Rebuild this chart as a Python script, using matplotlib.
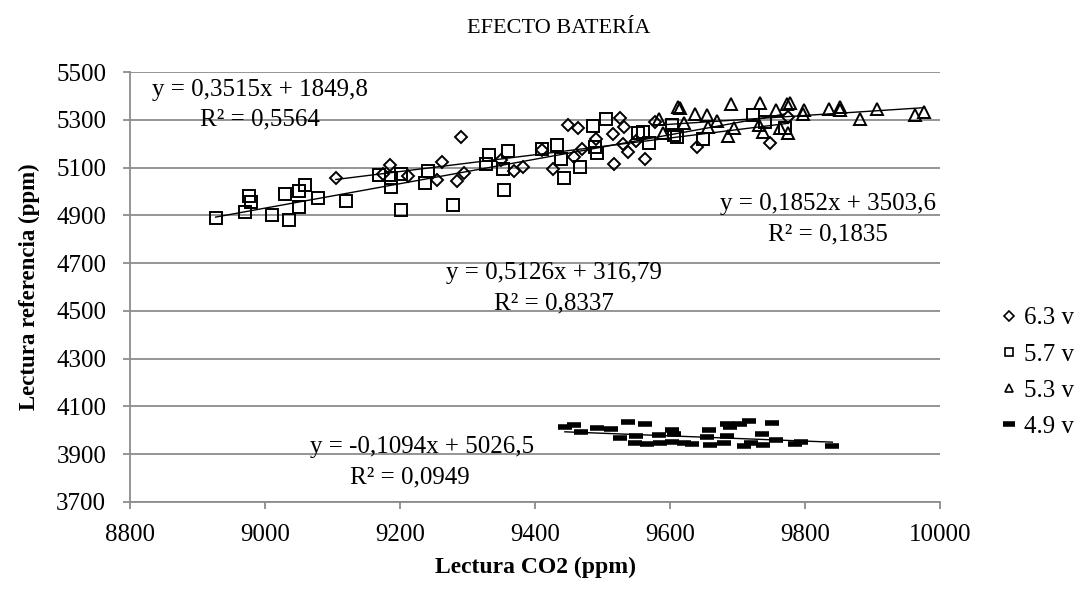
import numpy as np
import matplotlib
matplotlib.use('Agg')
import matplotlib.pyplot as plt

plt.rcParams['font.family'] = ['Liberation Serif', 'DejaVu Serif']

# 6.3 v (diamonds)
x63 = [9105, 9175, 9185, 9212, 9254, 9262, 9290, 9284, 9295, 9349, 9368, 9382,
       9410, 9427, 9448, 9463, 9457, 9469, 9490, 9516, 9517, 9525, 9532, 9530,
       9537, 9562, 9550, 9578, 9640, 9748, 9775]
y63 = [5058, 5072, 5111, 5064, 5049, 5122, 5228, 5042, 5079, 5132, 5086, 5101,
       5174, 5093, 5278, 5264, 5146, 5180, 5219, 5239, 5115, 5309, 5271, 5201,
       5167, 5136, 5211, 5293, 5188, 5204, 5310]

# 5.7 v (squares)
x57 = [8927, 8970, 8977, 8979, 9011, 9030, 9035, 9050, 9050, 9059, 9079, 9120,
       9169, 9187, 9187, 9202, 9201, 9242, 9237, 9278, 9327, 9332, 9353, 9360,
       9354, 9410, 9432, 9439, 9443, 9466, 9485, 9489, 9492, 9505, 9553, 9568,
       9560, 9602, 9605, 9723, 9649, 9610, 9740, 9770]
y57 = [4889, 4912, 4979, 4954, 4900, 4989, 4879, 5000, 4935, 5028, 4971, 4961,
       5070, 5055, 5017, 5073, 4921, 5086, 5037, 4945, 5116, 5153, 5095, 5168,
       5007, 5180, 5195, 5136, 5058, 5104, 5273, 5185, 5160, 5305, 5243, 5204,
       5250, 5280, 5236, 5320, 5220, 5230, 5290, 5265]

# 5.3 v (triangles)
x53 = [9583, 9590, 9612, 9614, 9620, 9636, 9654, 9656, 9669, 9685, 9690, 9694,
       9731, 9733, 9738, 9757, 9763, 9773, 9775, 9778, 9797, 9798, 9835, 9851,
       9852, 9881, 9906, 9963, 9975]
y53 = [5305, 5243, 5354, 5351, 5285, 5326, 5320, 5271, 5296, 5232, 5368, 5264,
       5278, 5372, 5250, 5340, 5264, 5368, 5243, 5372, 5326, 5340, 5347, 5340,
       5354, 5303, 5347, 5322, 5333]

# 4.9 v (dashes)
x49 = [9444, 9457, 9468, 9491, 9512, 9526, 9538, 9548, 9550, 9563, 9565, 9585,
       9584, 9603, 9605, 9603, 9620, 9632, 9658, 9655, 9659, 9679, 9684, 9689,
       9684, 9703, 9716, 9709, 9720, 9736, 9737, 9751, 9756, 9785, 9793, 9840]
y49 = [4012, 4021, 3993, 4010, 4004, 3967, 4035, 3947, 3976, 4024, 3943, 3947,
       3982, 3999, 3986, 3950, 3947, 3942, 3999, 3972, 3938, 3947, 4028, 4014,
       3975, 4024, 4039, 3933, 3947, 3986, 3939, 4030, 3961, 3944, 3949, 3935]

series_x = [x63, x57, x53, x49]
series_y = [y63, y57, y53, y49]
labels = ['6.3 v', '5.7 v', '5.3 v', '4.9 v']
slopes = [0.3515, 0.5126, 0.1852, -0.1094]
intercepts = [1849.8, 316.79, 3503.6, 5026.5]
eq_text = ['y = 0,3515x + 1849,8', 'y = 0,5126x + 316,79',
           'y = 0,1852x + 3503,6', 'y = -0,1094x + 5026,5']
r2_text = ['R² = 0,5564', 'R² = 0,8337', 'R² = 0,1835', 'R² = 0,0949']
eq_pos = [(8993, 5425), (9428, 4658), (9833, 4946), (9232, 3929)]
r2_pos = [(8993, 5300), (9428, 4533), (9833, 4821), (9215, 3804)]

fig = plt.figure(figsize=(10.91, 6.01), dpi=100)
ax = fig.add_axes([0.119, 0.165, 0.743, 0.715])

styles = [dict(marker='D', ms=6.5), dict(marker='s', ms=8), dict(marker='^', ms=8),
          dict(marker='_', ms=10, mew=4)]
for xs, ys, st, lab in zip(series_x, series_y, styles, labels):
    kw = dict(ls='none', mfc='none', mec='black', mew=1.4)
    kw.update(st)
    ax.plot(xs, ys, label=lab, zorder=3, **kw)

for xs, m, b in zip(series_x, slopes, intercepts):
    xx = np.array([min(xs), max(xs)])
    ax.plot(xx, m * xx + b, color='black', lw=1, zorder=4)

for t, p in zip(eq_text, eq_pos):
    ax.text(p[0], p[1], t, ha='center', va='center', fontsize=18, zorder=5)
for t, p in zip(r2_text, r2_pos):
    ax.text(p[0], p[1], t, ha='center', va='center', fontsize=18, zorder=5)

ax.set_xlim(8800, 10000)
ax.set_ylim(3700, 5500)
ax.set_xticks(np.arange(8800, 10001, 200))
ax.set_yticks(np.arange(3700, 5501, 200))
ax.yaxis.grid(True, color='#8c8c8c', lw=1.3)
ax.set_axisbelow(True)
for s in ['top', 'right']:
    ax.spines[s].set_visible(False)
for s in ['left', 'bottom']:
    ax.spines[s].set_color('#8c8c8c')
    ax.spines[s].set_linewidth(1.3)
ax.tick_params(colors='#8c8c8c', labelcolor='black', labelsize=18, length=5, width=1.3)
ax.tick_params(axis='x', pad=11)
ax.tick_params(axis='y', pad=12)

fig.text(0.512, 0.953, 'EFECTO BATERÍA', fontsize=16, ha='center', va='center')
ax.set_xlabel('Lectura CO2 (ppm)', fontsize=17, fontweight='bold', labelpad=8)
ax.set_ylabel('Lectura referencia (ppm)', fontsize=16.5, fontweight='bold', labelpad=12)

leg_handles = []
for st in styles:
    kw = dict(ls='none', mfc='none', mec='black', mew=1.2)
    st2 = dict(st)
    st2['ms'] = st2['ms'] * 0.8
    kw.update(st2)
    leg_handles.append(matplotlib.lines.Line2D([], [], **kw))
fig.legend(leg_handles, labels, loc='center left', bbox_to_anchor=(0.905, 0.38),
           frameon=False, fontsize=18, handlelength=0.7, handletextpad=0.25,
           labelspacing=0.55, borderpad=0)

fig.savefig('out.png', dpi=100)
